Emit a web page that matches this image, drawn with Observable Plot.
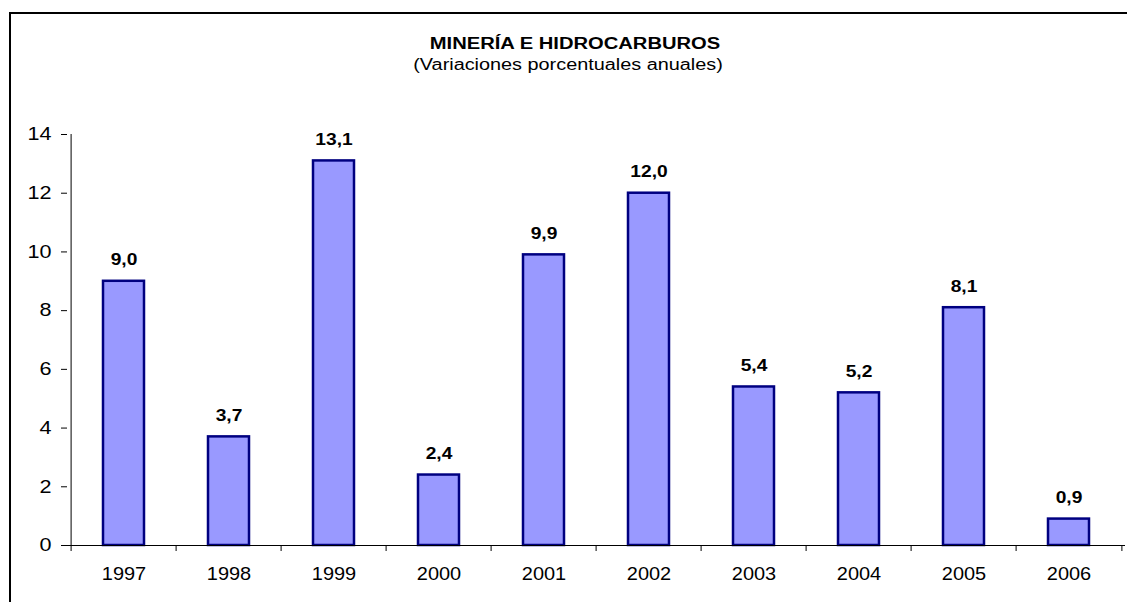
<!DOCTYPE html>
<html>
<head>
<meta charset="utf-8">
<script src="https://cdn.jsdelivr.net/npm/d3@7"></script>
<script src="https://cdn.jsdelivr.net/npm/@observablehq/plot@0.6"></script>
<style>
  html, body { margin: 0; padding: 0; background: #fff; }
  #wrap { position: relative; width: 1127px; height: 602px; overflow: hidden; font-family: "Liberation Sans", Arial, sans-serif; }
  #frame { position: absolute; left: 9px; top: 12px; width: 1200px; height: 700px; border-top: 2px solid #000; border-left: 2px solid #000; pointer-events: none; }
  .ttl { position: absolute; left: 0; width: 1150px; text-align: center; font-size: 16px; line-height: 20px; color: #000; transform-origin: 575px 50%; }
  #title { top: 34px; font-weight: bold; transform: scaleX(1.26); }
  #subtitle { top: 55px; left: -7px; transform: scaleX(1.24); }
  #chart { position: absolute; left: 0; top: 0; }
</style>
</head>
<body>
<div id="wrap">
  <div id="chart"></div>
  <div id="frame"></div>
  <div id="title" class="ttl"></div>
  <div id="subtitle" class="ttl"></div>
</div>
<script>
const titleText = "MINERÍA E HIDROCARBUROS";
const subtitleText = "(Variaciones porcentuales anuales)";
const years = ["1997", "1998", "1999", "2000", "2001", "2002", "2003", "2004", "2005", "2006"];
const values = [9.0, 3.7, 13.1, 2.4, 9.9, 12.0, 5.4, 5.2, 8.1, 0.9];
const yTicks = [0, 2, 4, 6, 8, 10, 12, 14];

document.getElementById("title").textContent = titleText;
document.getElementById("subtitle").textContent = subtitleText;

const data = years.map((y, i) => ({year: y, value: values[i]}));
const W = 1127, H = 602, mL = 67, mR = 2, mT = 134, mB = 57;
const step = (W - mL - mR) / years.length;
const fmt = v => d3.format(".1f")(v).replace(".", ",");
const font = "'Liberation Sans', Arial, sans-serif";

const chart = Plot.plot({
  width: W,
  height: H,
  marginLeft: mL,
  marginRight: mR,
  marginTop: mT,
  marginBottom: mB,
  style: {fontFamily: font, color: "#000", background: "transparent"},
  x: {type: "band", domain: years, padding: 0, label: null},
  y: {domain: [0, 14], label: null},
  marks: [
    Plot.barY(data, {x: "year", y: "value", fill: "#9999FF", stroke: "#000080", strokeWidth: 2.5, insetLeft: 32, insetRight: 32}),
    Plot.ruleY([0], {stroke: "#000", strokeWidth: 1}),
    Plot.ruleX([years[0]], {x: d => d, dx: -step / 2, stroke: "#000", strokeWidth: 1}),
    Plot.axisY({ticks: yTicks, tickSize: 6, tickPadding: 10, fontSize: 18, label: null, stroke: "#000"}),
    Plot.axisX({tickSize: 6, tickFormat: () => "", dx: -step / 2, label: null, stroke: "#000"}),
    Plot.axisX([years[years.length - 1]], {tickSize: 6, tickFormat: () => "", dx: step / 2, label: null, stroke: "#000"}),
    Plot.axisX({tickSize: 0, tickPadding: 21, fontSize: 19, label: null}),
    Plot.text(data, {x: "year", y: "value", text: d => fmt(d.value), dy: -21, fontSize: 16, fontWeight: "bold", fill: "#000"})
  ]
});
document.getElementById("chart").appendChild(chart);

// horizontally widen text glyphs (around each text's own anchor) to match the reference
function stretch(selector, s) {
  chart.querySelectorAll(selector).forEach(el => {
    const t = el.getAttribute("transform") || "";
    el.setAttribute("transform", `${t} scale(${s},1)`);
  });
}
stretch('g[aria-label="y-axis tick label"] text', 1.2);
stretch('g[aria-label="x-axis tick label"] text', 1.05);
stretch('g[aria-label="text"] text', 1.2);
</script>
</body>
</html>
